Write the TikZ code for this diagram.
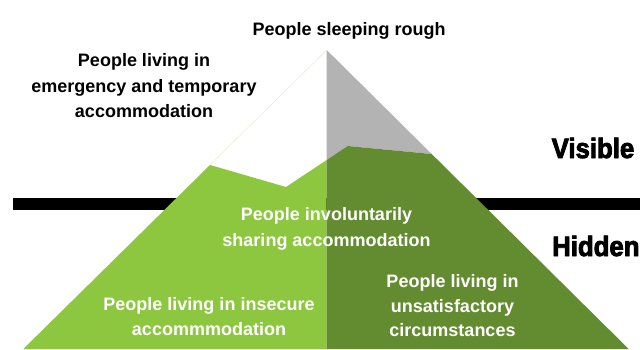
\documentclass[tikz,border=0pt]{standalone}
\usepackage{fontspec}
\setmainfont{Liberation Sans}
\newfontfamily\heavyfont{Liberation Sans}[FakeStretch=0.92,BoldFeatures={FakeBold=3}]
\definecolor{lightgreen}{RGB}{141,198,63}
\definecolor{darkgreen}{RGB}{98,140,47}
\definecolor{rockgrey}{RGB}{179,179,179}
\definecolor{snowedge}{RGB}{232,236,214}
\tikzset{
  darktext/.style={inner sep=0pt,align=center,font=\bfseries\fontsize{18}{25.5}\selectfont},
  lighttext/.style={darktext,text=white},
  sidetitle/.style={inner sep=0pt,anchor=base west,font=\heavyfont\bfseries\fontsize{28}{30}\selectfont}
}

\begin{document}
\begin{tikzpicture}[x=1pt,y=-1pt]
\useasboundingbox (0,0) rectangle (640,349);

% waterline
\fill[black] (13,198) rectangle (640,210);

% tip of the mountain
\fill[rockgrey] (326.7,50) -- ++(105,104) -- ++(-84,-8) -- ++(-21,14) -- cycle;
\draw[snowedge,line width=0.6pt] (326.7,50) -- (210,165);

% body of the mountain, two halves
\fill[lightgreen] (210,165)
 -- ++(76,22) -- ++(40.7,-27) -- (326.7,349) -- (23.3,349) -- cycle;
\fill[darkgreen] (326.7,160)
 -- ++(21,-14) -- ++(84,8) -- (628.7,349) -- (326.7,349) -- cycle;

% texts above the line
\node[darktext,anchor=base] (rough) at (349.2,35) {People sleeping rough};
\node[darktext,anchor=north] (emergency) at (144,53.7)
 {People living in\\emergency and temporary\\accommodation};
\node[sidetitle] (visible) at (551.5,158) {Visible};

% texts below the line
\node[sidetitle] (hidden) at (552,256) {Hidden};
\node[lighttext,anchor=north] (sharing) at (326.5,207.7)
 {People involuntarily\\sharing accommodation};
\node[lighttext,anchor=north] (insecure) at (209,297)
 {People living in insecure\\accommmodation};
\node[lighttext,anchor=north,font=\bfseries\fontsize{18}{24.5}\selectfont] (unsatisfactory) at (452.5,274.7)
 {People living in\\unsatisfactory\\circumstances};

\end{tikzpicture}
\end{document}
